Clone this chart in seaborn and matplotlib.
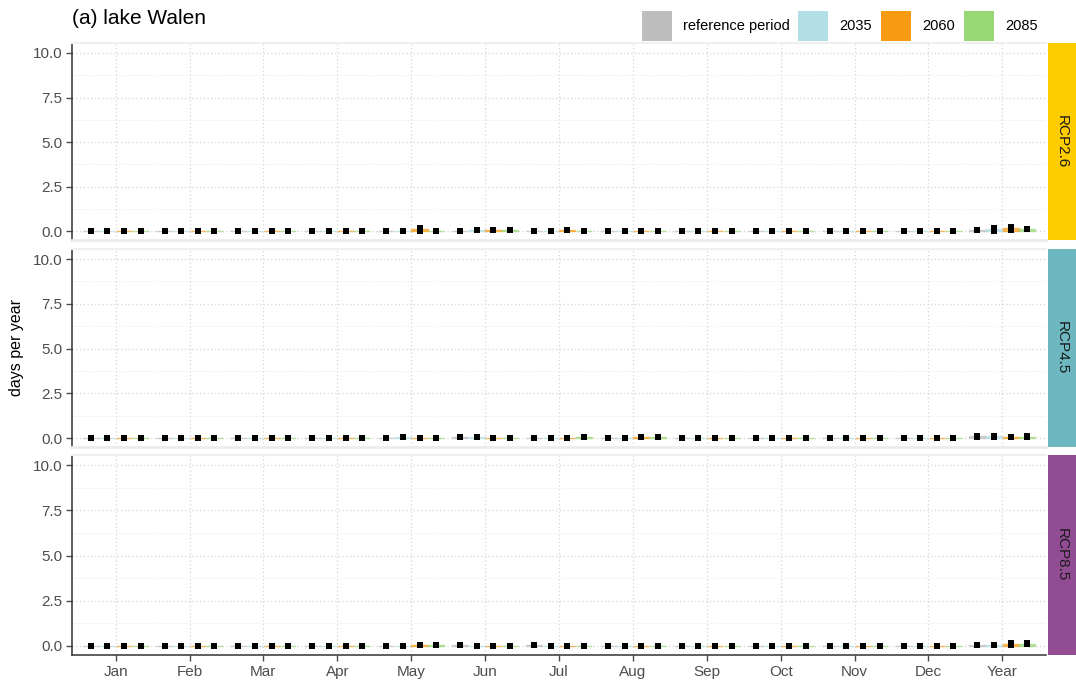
import numpy as np
import pandas as pd
import matplotlib
matplotlib.use("Agg")
import matplotlib.pyplot as plt
from matplotlib.patches import Rectangle
from matplotlib.ticker import MultipleLocator
import seaborn as sns

# ---- data -------------------------------------------------------------
months = ["Jan", "Feb", "Mar", "Apr", "May", "Jun", "Jul",
          "Aug", "Sep", "Oct", "Nov", "Dec", "Year"]
periods = ["reference period", "2035", "2060", "2085"]
period_colors = ["#BEBEBE", "#B2DFE6", "#F89A12", "#98D874"]
scenarios = ["RCP2.6", "RCP4.5", "RCP8.5"]
strip_colors = ["#FFCC00", "#6DB8C0", "#924C94"]

# mean days per year, rows = periods, columns = months
rcp26_mean = [
    [0, 0, 0, 0, 0.02, 0.03, 0.02, 0, 0, 0, 0, 0, 0.05],
    [0, 0, 0, 0, 0.02, 0.08, 0.00, 0, 0.01, 0, 0, 0, 0.10],
    [0, 0, 0, 0, 0.10, 0.05, 0.05, 0, 0, 0, 0, 0, 0.15],
    [0, 0, 0, 0, 0.00, 0.08, 0.00, 0, 0, 0, 0, 0, 0.10],
]
rcp26_err = [
    [0, 0, 0, 0, 0, 0, 0, 0, 0, 0, 0, 0, 0.05],
    [0, 0, 0, 0, 0, 0.08, 0, 0, 0, 0, 0, 0, 0.20],
    [0, 0, 0, 0, 0.18, 0, 0, 0, 0, 0, 0, 0, 0.22],
    [0, 0, 0, 0, 0, 0.10, 0, 0, 0, 0, 0, 0, 0.12],
]
rcp45_mean = [
    [0, 0, 0, 0, 0.02, 0.04, 0.02, 0, 0, 0, 0, 0, 0.10],
    [0, 0, 0, 0, 0.05, 0.08, 0.00, 0, 0, 0, 0, 0, 0.10],
    [0.03, 0, 0, 0, 0, 0.03, 0.02, 0.05, 0, 0, 0, 0, 0.05],
    [0, 0, 0, 0, 0, 0, 0.05, 0.04, 0, 0, 0, 0, 0.08],
]
rcp45_err = [
    [0, 0, 0, 0, 0, 0, 0, 0, 0, 0, 0, 0, 0.15],
    [0, 0, 0, 0, 0.05, 0.06, 0, 0, 0, 0, 0, 0, 0.15],
    [0, 0, 0, 0, 0, 0, 0, 0, 0, 0, 0, 0, 0.10],
    [0, 0, 0, 0, 0, 0, 0.06, 0, 0, 0, 0, 0, 0.12],
]
rcp85_mean = [
    [0, 0, 0, 0, 0, 0.04, 0.04, 0, 0, 0, 0, 0, 0.05],
    [0, 0, 0, 0, 0, 0.02, 0.00, 0, 0, 0, 0, 0, 0.06],
    [0, 0, 0, 0, 0.04, 0.00, 0.00, 0, 0, 0, 0, 0, 0.12],
    [0, 0, 0, 0, 0.04, 0.00, 0.00, 0, 0, 0, 0, 0, 0.13],
]
rcp85_err = [
    [0, 0, 0, 0, 0, 0, 0, 0, 0, 0, 0, 0, 0.04],
    [0, 0, 0, 0, 0, 0, 0, 0, 0, 0, 0, 0, 0.05],
    [0, 0, 0, 0, 0, 0, 0, 0, 0, 0, 0, 0, 0.15],
    [0, 0, 0, 0, 0, 0, 0, 0, 0, 0, 0, 0, 0.12],
]
means = [rcp26_mean, rcp45_mean, rcp85_mean]
errs = [rcp26_err, rcp45_err, rcp85_err]

y_ticks = [0.0, 2.5, 5.0, 7.5, 10.0]

# ---- style ------------------------------------------------------------
sns.set_theme(style="white")
plt.rcParams["font.family"] = ["Liberation Sans", "DejaVu Sans"]

fig = plt.figure(figsize=(10.76, 6.82), dpi=100)
W, H = 1076, 682
left, right = 72 / W, 1046 / W
panels_px = [(43, 240), (249, 447), (455, 655)]

dodge_w = 0.9
n = len(periods)
slot = dodge_w / n
offsets = [(-dodge_w / 2 + slot / 2 + k * slot) for k in range(n)]

axes = []
for s, (top, bot) in enumerate(panels_px):
    ax = fig.add_axes([left, 1 - bot / H, right - left, (bot - top) / H])
    axes.append(ax)

    rows = []
    for p, per in enumerate(periods):
        for m, mon in enumerate(months):
            rows.append({"month": mon, "period": per,
                         "mean": means[s][p][m], "err": errs[s][p][m]})
    df = pd.DataFrame(rows)

    # coloured boxes per period, dodged within each month
    sns.barplot(data=df, x="month", y="mean", hue="period", order=months,
                hue_order=periods, palette=period_colors, width=dodge_w,
                gap=0.02, saturation=1, alpha=0.65, linewidth=1.0,
                errorbar=None, legend=False, ax=ax)
    for bar, col in zip(ax.patches, np.repeat(period_colors, len(months))):
        bar.set_edgecolor(col)

    # mean markers with error range (ranges only where non-zero)
    for p in range(n):
        xs = np.arange(len(months)) + offsets[p]
        ys = np.array(means[s][p])
        es = np.array(errs[s][p])
        nz = es > 0
        if nz.any():
            ax.errorbar(xs[nz], ys[nz], yerr=es[nz], fmt="none",
                        ecolor="black", elinewidth=1.6, capsize=2.5,
                        capthick=1.4, zorder=4)
        ax.scatter(xs, ys, marker="s", s=16, color="black", zorder=5,
                   linewidths=0)

    ax.set_xlim(-0.59, len(months) - 0.41)
    ax.set_ylim(-0.5, 10.56)
    ax.set_yticks(y_ticks)
    ax.set_yticklabels([f"{v:.1f}" for v in y_ticks])
    ax.yaxis.set_minor_locator(MultipleLocator(1.25))
    ax.grid(True, which="major", axis="both", linestyle=(0, (1, 2)),
            color="#D6D6D6", linewidth=0.9)
    ax.grid(True, which="minor", axis="y", linestyle=(0, (1, 2)),
            color="#E4E4E4", linewidth=0.7)
    ax.set_axisbelow(True)
    ax.set_xlabel("")
    ax.set_ylabel("")
    ax.tick_params(axis="y", labelsize=11, colors="#4D4D4D", length=4,
                   width=1, left=True, labelcolor="#4D4D4D", pad=3)
    ax.tick_params(axis="y", which="minor", left=False)

    ax.spines["right"].set_visible(False)
    ax.spines["top"].set_color("#EFEFEF")
    ax.spines["top"].set_linewidth(1.5)
    ax.spines["left"].set_color("#333333")
    ax.spines["left"].set_linewidth(1.1)
    if s < 2:
        ax.spines["bottom"].set_color("#EBEBEB")
        ax.spines["bottom"].set_linewidth(2)
        ax.tick_params(axis="x", bottom=False, labelbottom=False)
    else:
        ax.spines["bottom"].set_color("#333333")
        ax.spines["bottom"].set_linewidth(1.1)
        ax.tick_params(axis="x", labelsize=11, colors="#4D4D4D", length=4,
                       width=1, bottom=True, pad=3)

    # facet strip on the right
    sx0 = 1048 / W
    fig.patches.append(Rectangle((sx0, 1 - bot / H), 1 - sx0, (bot - top) / H,
                                 transform=fig.transFigure,
                                 facecolor=strip_colors[s], edgecolor="none"))
    fig.text((sx0 + 1) / 2, 1 - (top + bot) / 2 / H, scenarios[s],
             rotation=-90, ha="center", va="center", fontsize=11,
             color="#1A1A1A")

fig.text(17 / W, 1 - 347 / H, "days per year", rotation=90,
         ha="center", va="center", fontsize=11.5, color="black")
fig.text(72 / W, 1 - 18 / H, "(a) lake Walen", ha="left", va="center",
         fontsize=15, color="black")

# legend: square keys with labels along the top edge
key_x = [642, 798, 881, 964]
for c, label, kx in zip(period_colors, periods, key_x):
    fig.patches.append(Rectangle((kx / W, 1 - 41 / H), 30 / W, 30 / H,
                                 transform=fig.transFigure,
                                 facecolor=c, edgecolor="none"))
    fig.text((kx + 41) / W, 1 - 26 / H, label, ha="left", va="center",
             fontsize=10.5, color="black")

fig.savefig("out.png", dpi=100)
